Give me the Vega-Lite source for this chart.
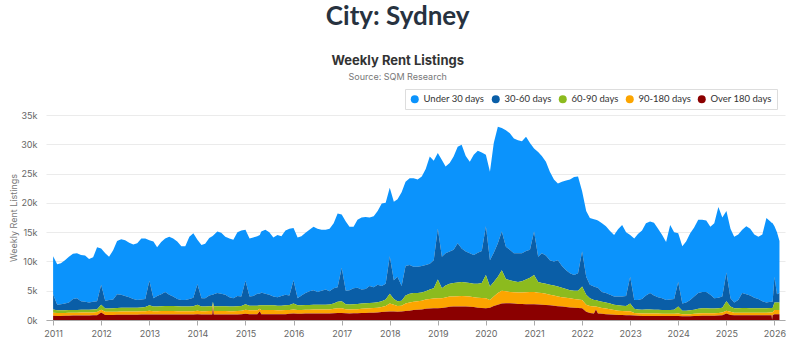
{
  "$schema": "https://vega.github.io/schema/vega-lite/v6.json",
  "background": "white",
  "padding": {"left": 9, "top": 4, "right": 10, "bottom": 6},
  "title": {"text": "City: Sydney", "font": "Lato", "fontSize": 26, "fontWeight": 700, "color": "#27323f", "anchor": "middle", "frame": "bounds", "offset": 25},
  "vconcat": [
    {
      "width": 739,
      "height": 205,
      "title": {"text": "Weekly Rent Listings", "subtitle": "Source: SQM Research", "fontSize": 13, "fontWeight": 700, "color": "#333333", "subtitleFontSize": 9, "subtitleColor": "#777777", "subtitlePadding": 5, "anchor": "middle", "frame": "bounds", "offset": 29},
      "data": {
        "values": [
          {"t": "2011-01-01", "u": 6500, "d": 2600, "g": 550, "o": 530, "r": 720},
          {"t": "2011-02-01", "u": 6900, "d": 950, "g": 450, "o": 500, "r": 700},
          {"t": "2011-03-01", "u": 7000, "d": 1050, "g": 450, "o": 500, "r": 700},
          {"t": "2011-04-01", "u": 7400, "d": 1150, "g": 450, "o": 480, "r": 720},
          {"t": "2011-05-01", "u": 7800, "d": 1300, "g": 480, "o": 500, "r": 720},
          {"t": "2011-06-01", "u": 7700, "d": 1900, "g": 450, "o": 500, "r": 750},
          {"t": "2011-07-01", "u": 7700, "d": 2000, "g": 450, "o": 500, "r": 750},
          {"t": "2011-08-01", "u": 7900, "d": 1450, "g": 470, "o": 510, "r": 770},
          {"t": "2011-09-01", "u": 7900, "d": 1350, "g": 470, "o": 510, "r": 770},
          {"t": "2011-10-01", "u": 7400, "d": 1250, "g": 450, "o": 520, "r": 780},
          {"t": "2011-11-01", "u": 7600, "d": 1300, "g": 500, "o": 500, "r": 800},
          {"t": "2011-12-01", "u": 9200, "d": 1350, "g": 500, "o": 550, "r": 800},
          {"t": "2012-01-01", "u": 6200, "d": 3400, "g": 850, "o": 450, "r": 1300},
          {"t": "2012-02-01", "u": 8100, "d": 1350, "g": 550, "o": 550, "r": 850},
          {"t": "2012-03-01", "u": 7400, "d": 1450, "g": 550, "o": 550, "r": 850},
          {"t": "2012-04-01", "u": 8400, "d": 1500, "g": 600, "o": 530, "r": 870},
          {"t": "2012-05-01", "u": 9100, "d": 2350, "g": 630, "o": 540, "r": 880},
          {"t": "2012-06-01", "u": 9500, "d": 2200, "g": 650, "o": 550, "r": 900},
          {"t": "2012-07-01", "u": 9500, "d": 2000, "g": 650, "o": 550, "r": 900},
          {"t": "2012-08-01", "u": 9300, "d": 1800, "g": 650, "o": 550, "r": 900},
          {"t": "2012-09-01", "u": 9300, "d": 1500, "g": 650, "o": 550, "r": 900},
          {"t": "2012-10-01", "u": 9700, "d": 1300, "g": 650, "o": 550, "r": 900},
          {"t": "2012-11-01", "u": 10400, "d": 1350, "g": 650, "o": 580, "r": 920},
          {"t": "2012-12-01", "u": 10300, "d": 1400, "g": 700, "o": 580, "r": 920},
          {"t": "2013-01-01", "u": 6900, "d": 4200, "g": 900, "o": 650, "r": 950},
          {"t": "2013-02-01", "u": 9700, "d": 1400, "g": 800, "o": 580, "r": 920},
          {"t": "2013-03-01", "u": 8300, "d": 1800, "g": 800, "o": 580, "r": 920},
          {"t": "2013-04-01", "u": 8900, "d": 2050, "g": 800, "o": 600, "r": 950},
          {"t": "2013-05-01", "u": 9100, "d": 2400, "g": 850, "o": 600, "r": 950},
          {"t": "2013-06-01", "u": 9900, "d": 1900, "g": 850, "o": 600, "r": 950},
          {"t": "2013-07-01", "u": 9900, "d": 1600, "g": 850, "o": 600, "r": 950},
          {"t": "2013-08-01", "u": 9800, "d": 1250, "g": 850, "o": 550, "r": 950},
          {"t": "2013-09-01", "u": 9200, "d": 1100, "g": 800, "o": 580, "r": 920},
          {"t": "2013-10-01", "u": 9200, "d": 1100, "g": 800, "o": 580, "r": 920},
          {"t": "2013-11-01", "u": 10600, "d": 1300, "g": 800, "o": 580, "r": 920},
          {"t": "2013-12-01", "u": 11000, "d": 1450, "g": 850, "o": 550, "r": 950},
          {"t": "2014-01-01", "u": 7600, "d": 3500, "g": 1000, "o": 600, "r": 1000},
          {"t": "2014-02-01", "u": 9100, "d": 1400, "g": 800, "o": 550, "r": 950},
          {"t": "2014-03-01", "u": 9300, "d": 1400, "g": 800, "o": 550, "r": 950},
          {"t": "2014-04-01", "u": 9800, "d": 1850, "g": 800, "o": 600, "r": 950},
          {"t": "2014-04-24", "u": 10000, "d": 1950, "g": 800, "o": 600, "r": 950},
          {"t": "2014-04-29", "u": 10100, "d": 1200, "g": 300, "o": 500, "r": 2300},
          {"t": "2014-05-05", "u": 10100, "d": 2050, "g": 800, "o": 600, "r": 950},
          {"t": "2014-06-01", "u": 10500, "d": 2250, "g": 800, "o": 600, "r": 950},
          {"t": "2014-07-01", "u": 10400, "d": 2150, "g": 800, "o": 600, "r": 950},
          {"t": "2014-08-01", "u": 9900, "d": 1950, "g": 800, "o": 600, "r": 950},
          {"t": "2014-09-01", "u": 10000, "d": 1600, "g": 800, "o": 550, "r": 950},
          {"t": "2014-10-01", "u": 10000, "d": 1400, "g": 800, "o": 550, "r": 950},
          {"t": "2014-11-01", "u": 10900, "d": 1750, "g": 800, "o": 600, "r": 950},
          {"t": "2014-12-01", "u": 11300, "d": 1600, "g": 800, "o": 600, "r": 1000},
          {"t": "2015-01-01", "u": 8700, "d": 4000, "g": 950, "o": 700, "r": 1050},
          {"t": "2015-02-01", "u": 9900, "d": 1550, "g": 800, "o": 650, "r": 1000},
          {"t": "2015-03-01", "u": 10000, "d": 1650, "g": 800, "o": 650, "r": 1000},
          {"t": "2015-04-01", "u": 9800, "d": 2050, "g": 800, "o": 650, "r": 1000},
          {"t": "2015-04-20", "u": 10000, "d": 2000, "g": 600, "o": 400, "r": 1500},
          {"t": "2015-05-01", "u": 10400, "d": 2200, "g": 800, "o": 700, "r": 1000},
          {"t": "2015-06-01", "u": 10900, "d": 2000, "g": 800, "o": 700, "r": 1000},
          {"t": "2015-07-01", "u": 10700, "d": 1800, "g": 800, "o": 700, "r": 1000},
          {"t": "2015-08-01", "u": 10100, "d": 1500, "g": 800, "o": 700, "r": 1000},
          {"t": "2015-09-01", "u": 10600, "d": 1450, "g": 800, "o": 650, "r": 1000},
          {"t": "2015-10-01", "u": 10200, "d": 1650, "g": 800, "o": 650, "r": 1000},
          {"t": "2015-11-01", "u": 11000, "d": 1800, "g": 800, "o": 700, "r": 1000},
          {"t": "2015-12-01", "u": 11400, "d": 1650, "g": 850, "o": 650, "r": 1050},
          {"t": "2016-01-01", "u": 8900, "d": 4000, "g": 1000, "o": 700, "r": 1100},
          {"t": "2016-02-01", "u": 10400, "d": 1200, "g": 800, "o": 650, "r": 1050},
          {"t": "2016-03-01", "u": 10100, "d": 1700, "g": 800, "o": 650, "r": 1050},
          {"t": "2016-04-01", "u": 10300, "d": 2050, "g": 800, "o": 650, "r": 1100},
          {"t": "2016-05-01", "u": 10500, "d": 2350, "g": 800, "o": 650, "r": 1100},
          {"t": "2016-06-01", "u": 10800, "d": 2500, "g": 800, "o": 700, "r": 1100},
          {"t": "2016-07-01", "u": 10800, "d": 2200, "g": 800, "o": 700, "r": 1100},
          {"t": "2016-08-01", "u": 10400, "d": 2400, "g": 800, "o": 700, "r": 1100},
          {"t": "2016-09-01", "u": 10200, "d": 2600, "g": 800, "o": 700, "r": 1100},
          {"t": "2016-10-01", "u": 10700, "d": 2250, "g": 850, "o": 700, "r": 1100},
          {"t": "2016-11-01", "u": 11100, "d": 2600, "g": 900, "o": 750, "r": 1150},
          {"t": "2016-12-01", "u": 12600, "d": 2500, "g": 1100, "o": 800, "r": 1200},
          {"t": "2017-01-01", "u": 9100, "d": 5700, "g": 1200, "o": 800, "r": 1200},
          {"t": "2017-02-01", "u": 11800, "d": 2300, "g": 850, "o": 700, "r": 1150},
          {"t": "2017-03-01", "u": 10800, "d": 2450, "g": 850, "o": 700, "r": 1100},
          {"t": "2017-04-01", "u": 10500, "d": 2700, "g": 850, "o": 700, "r": 1150},
          {"t": "2017-05-01", "u": 11600, "d": 2750, "g": 900, "o": 700, "r": 1150},
          {"t": "2017-06-01", "u": 12300, "d": 2400, "g": 900, "o": 700, "r": 1200},
          {"t": "2017-07-01", "u": 12300, "d": 2450, "g": 900, "o": 750, "r": 1200},
          {"t": "2017-08-01", "u": 11700, "d": 2900, "g": 900, "o": 750, "r": 1250},
          {"t": "2017-09-01", "u": 12100, "d": 2650, "g": 900, "o": 800, "r": 1250},
          {"t": "2017-10-01", "u": 12600, "d": 2950, "g": 950, "o": 800, "r": 1300},
          {"t": "2017-11-01", "u": 14100, "d": 2600, "g": 1000, "o": 850, "r": 1350},
          {"t": "2017-12-01", "u": 13800, "d": 2700, "g": 1100, "o": 1000, "r": 1400},
          {"t": "2018-01-01", "u": 11700, "d": 6400, "g": 1700, "o": 1350, "r": 1450},
          {"t": "2018-02-01", "u": 13400, "d": 3200, "g": 1000, "o": 1150, "r": 1450},
          {"t": "2018-03-01", "u": 13200, "d": 4200, "g": 800, "o": 1000, "r": 1400},
          {"t": "2018-04-01", "u": 16000, "d": 2500, "g": 850, "o": 1000, "r": 1450},
          {"t": "2018-05-01", "u": 14400, "d": 5000, "g": 1400, "o": 1250, "r": 1550},
          {"t": "2018-06-01", "u": 14800, "d": 4900, "g": 1500, "o": 1400, "r": 1600},
          {"t": "2018-07-01", "u": 15100, "d": 4500, "g": 1500, "o": 1400, "r": 1700},
          {"t": "2018-08-01", "u": 14900, "d": 4500, "g": 1400, "o": 1450, "r": 1750},
          {"t": "2018-09-01", "u": 15300, "d": 4500, "g": 1400, "o": 1500, "r": 1800},
          {"t": "2018-10-01", "u": 16400, "d": 4500, "g": 1400, "o": 1600, "r": 1900},
          {"t": "2018-11-01", "u": 18300, "d": 4400, "g": 1600, "o": 1650, "r": 1950},
          {"t": "2018-12-01", "u": 17000, "d": 4800, "g": 1750, "o": 1650, "r": 2000},
          {"t": "2019-01-01", "u": 12900, "d": 8700, "g": 3200, "o": 1700, "r": 2000},
          {"t": "2019-02-01", "u": 16500, "d": 5400, "g": 1700, "o": 1650, "r": 2050},
          {"t": "2019-03-01", "u": 14800, "d": 5500, "g": 2050, "o": 1700, "r": 2150},
          {"t": "2019-04-01", "u": 15100, "d": 5500, "g": 2200, "o": 1750, "r": 2250},
          {"t": "2019-05-01", "u": 15900, "d": 5700, "g": 2300, "o": 1700, "r": 2300},
          {"t": "2019-06-01", "u": 16500, "d": 6700, "g": 2350, "o": 1750, "r": 2300},
          {"t": "2019-07-01", "u": 17700, "d": 5700, "g": 2400, "o": 1800, "r": 2300},
          {"t": "2019-08-01", "u": 16300, "d": 5300, "g": 2350, "o": 1750, "r": 2300},
          {"t": "2019-09-01", "u": 15600, "d": 5100, "g": 2300, "o": 1750, "r": 2250},
          {"t": "2019-10-01", "u": 17100, "d": 4900, "g": 2300, "o": 1700, "r": 2200},
          {"t": "2019-11-01", "u": 17400, "d": 5300, "g": 2400, "o": 1700, "r": 2100},
          {"t": "2019-12-01", "u": 16800, "d": 5500, "g": 2550, "o": 1700, "r": 2050},
          {"t": "2020-01-01", "u": 12200, "d": 8300, "g": 4000, "o": 1700, "r": 2000},
          {"t": "2020-02-01", "u": 15100, "d": 4500, "g": 2300, "o": 1300, "r": 2100},
          {"t": "2020-03-01", "u": 18700, "d": 5000, "g": 2500, "o": 1600, "r": 2400},
          {"t": "2020-04-01", "u": 19900, "d": 5700, "g": 2800, "o": 2000, "r": 2600},
          {"t": "2020-05-01", "u": 17700, "d": 6600, "g": 3500, "o": 2200, "r": 2800},
          {"t": "2020-06-01", "u": 19900, "d": 5500, "g": 2100, "o": 2050, "r": 2850},
          {"t": "2020-07-01", "u": 19900, "d": 5200, "g": 2000, "o": 1950, "r": 2850},
          {"t": "2020-08-01", "u": 19600, "d": 4800, "g": 1850, "o": 1950, "r": 2800},
          {"t": "2020-09-01", "u": 19300, "d": 4900, "g": 1800, "o": 1950, "r": 2750},
          {"t": "2020-10-01", "u": 19100, "d": 4800, "g": 1900, "o": 1950, "r": 2750},
          {"t": "2020-11-01", "u": 19500, "d": 4900, "g": 2150, "o": 2050, "r": 2700},
          {"t": "2020-12-01", "u": 18200, "d": 4800, "g": 2400, "o": 2100, "r": 2700},
          {"t": "2021-01-01", "u": 14200, "d": 7400, "g": 2900, "o": 2100, "r": 2700},
          {"t": "2021-02-01", "u": 17900, "d": 4300, "g": 1850, "o": 2000, "r": 2650},
          {"t": "2021-03-01", "u": 16600, "d": 5100, "g": 1700, "o": 2000, "r": 2600},
          {"t": "2021-04-01", "u": 16000, "d": 4800, "g": 1700, "o": 1950, "r": 2550},
          {"t": "2021-05-01", "u": 15100, "d": 4200, "g": 1700, "o": 1800, "r": 2500},
          {"t": "2021-06-01", "u": 14000, "d": 4100, "g": 1700, "o": 1750, "r": 2450},
          {"t": "2021-07-01", "u": 13100, "d": 4500, "g": 1700, "o": 1650, "r": 2350},
          {"t": "2021-08-01", "u": 14400, "d": 3700, "g": 1600, "o": 1600, "r": 2300},
          {"t": "2021-09-01", "u": 15300, "d": 3200, "g": 1500, "o": 1600, "r": 2200},
          {"t": "2021-10-01", "u": 16000, "d": 2900, "g": 1400, "o": 1550, "r": 2150},
          {"t": "2021-11-01", "u": 16700, "d": 2700, "g": 1400, "o": 1500, "r": 2100},
          {"t": "2021-12-01", "u": 16500, "d": 3000, "g": 1500, "o": 1450, "r": 2050},
          {"t": "2022-01-01", "u": 10300, "d": 6000, "g": 2300, "o": 1400, "r": 2000},
          {"t": "2022-02-01", "u": 11200, "d": 3100, "g": 1700, "o": 1200, "r": 1400},
          {"t": "2022-03-01", "u": 11400, "d": 2300, "g": 1300, "o": 1200, "r": 1200},
          {"t": "2022-04-01", "u": 11500, "d": 2300, "g": 1100, "o": 1200, "r": 1100},
          {"t": "2022-04-16", "u": 11500, "d": 2200, "g": 1100, "o": 500, "r": 1800},
          {"t": "2022-05-01", "u": 11500, "d": 2200, "g": 1100, "o": 1100, "r": 1100},
          {"t": "2022-06-01", "u": 11700, "d": 1700, "g": 1050, "o": 1000, "r": 1050},
          {"t": "2022-07-01", "u": 11400, "d": 1600, "g": 1050, "o": 950, "r": 1000},
          {"t": "2022-08-01", "u": 10900, "d": 1500, "g": 950, "o": 900, "r": 950},
          {"t": "2022-09-01", "u": 10500, "d": 1400, "g": 900, "o": 800, "r": 900},
          {"t": "2022-10-01", "u": 11500, "d": 1500, "g": 900, "o": 750, "r": 850},
          {"t": "2022-11-01", "u": 12200, "d": 1550, "g": 900, "o": 700, "r": 850},
          {"t": "2022-12-01", "u": 10900, "d": 1700, "g": 900, "o": 700, "r": 800},
          {"t": "2023-01-01", "u": 7100, "d": 4600, "g": 1300, "o": 700, "r": 800},
          {"t": "2023-02-01", "u": 10500, "d": 1500, "g": 700, "o": 450, "r": 750},
          {"t": "2023-03-01", "u": 11300, "d": 1600, "g": 650, "o": 430, "r": 720},
          {"t": "2023-04-01", "u": 11700, "d": 1850, "g": 650, "o": 400, "r": 700},
          {"t": "2023-05-01", "u": 12300, "d": 2400, "g": 700, "o": 400, "r": 700},
          {"t": "2023-06-01", "u": 12200, "d": 2800, "g": 700, "o": 400, "r": 700},
          {"t": "2023-07-01", "u": 12400, "d": 2450, "g": 650, "o": 400, "r": 700},
          {"t": "2023-08-01", "u": 11700, "d": 2150, "g": 650, "o": 400, "r": 700},
          {"t": "2023-09-01", "u": 10800, "d": 2000, "g": 650, "o": 370, "r": 680},
          {"t": "2023-10-01", "u": 9900, "d": 1700, "g": 650, "o": 370, "r": 680},
          {"t": "2023-11-01", "u": 12700, "d": 1800, "g": 650, "o": 370, "r": 680},
          {"t": "2023-12-01", "u": 11400, "d": 1850, "g": 700, "o": 370, "r": 680},
          {"t": "2024-01-01", "u": 8300, "d": 4200, "g": 1200, "o": 400, "r": 700},
          {"t": "2024-02-01", "u": 9800, "d": 1200, "g": 600, "o": 350, "r": 650},
          {"t": "2024-03-01", "u": 10400, "d": 1400, "g": 600, "o": 350, "r": 650},
          {"t": "2024-04-01", "u": 11400, "d": 1750, "g": 650, "o": 350, "r": 650},
          {"t": "2024-05-01", "u": 11800, "d": 2250, "g": 700, "o": 370, "r": 680},
          {"t": "2024-06-01", "u": 12500, "d": 2700, "g": 800, "o": 400, "r": 700},
          {"t": "2024-07-01", "u": 12300, "d": 2800, "g": 850, "o": 430, "r": 720},
          {"t": "2024-08-01", "u": 12200, "d": 2800, "g": 850, "o": 430, "r": 720},
          {"t": "2024-09-01", "u": 11600, "d": 2350, "g": 800, "o": 430, "r": 720},
          {"t": "2024-10-01", "u": 12800, "d": 1750, "g": 800, "o": 430, "r": 720},
          {"t": "2024-11-01", "u": 15500, "d": 1800, "g": 800, "o": 450, "r": 750},
          {"t": "2024-12-01", "u": 13500, "d": 1900, "g": 800, "o": 500, "r": 800},
          {"t": "2025-01-01", "u": 10500, "d": 4900, "g": 1600, "o": 500, "r": 1100},
          {"t": "2025-02-01", "u": 11900, "d": 1400, "g": 900, "o": 550, "r": 850},
          {"t": "2025-03-01", "u": 11200, "d": 1000, "g": 750, "o": 450, "r": 800},
          {"t": "2025-04-01", "u": 11200, "d": 1400, "g": 750, "o": 450, "r": 800},
          {"t": "2025-05-01", "u": 10800, "d": 2550, "g": 800, "o": 450, "r": 800},
          {"t": "2025-06-01", "u": 11600, "d": 2350, "g": 800, "o": 450, "r": 800},
          {"t": "2025-07-01", "u": 11400, "d": 2200, "g": 750, "o": 450, "r": 800},
          {"t": "2025-08-01", "u": 10800, "d": 1800, "g": 750, "o": 450, "r": 800},
          {"t": "2025-09-01", "u": 10600, "d": 1600, "g": 750, "o": 450, "r": 800},
          {"t": "2025-10-01", "u": 11400, "d": 1200, "g": 750, "o": 450, "r": 800},
          {"t": "2025-11-01", "u": 14400, "d": 1000, "g": 750, "o": 450, "r": 800},
          {"t": "2025-12-01", "u": 13700, "d": 1050, "g": 750, "o": 480, "r": 820},
          {"t": "2025-12-10", "u": 13500, "d": 1050, "g": 750, "o": 480, "r": 820},
          {"t": "2025-12-14", "u": 13500, "d": 1050, "g": 700, "o": 1300, "r": 50},
          {"t": "2025-12-18", "u": 13400, "d": 1050, "g": 750, "o": 480, "r": 820},
          {"t": "2026-01-01", "u": 8600, "d": 4400, "g": 1300, "o": 700, "r": 1000},
          {"t": "2026-01-20", "u": 10600, "d": 1400, "g": 1300, "o": 700, "r": 1000},
          {"t": "2026-02-08", "u": 8900, "d": 1600, "g": 1300, "o": 700, "r": 1000}
        ]
      },
      "transform": [
        {"fold": ["u", "d", "g", "o", "r"], "as": ["k", "n"]},
        {
          "lookup": "k",
          "from": {
            "data": {
              "values": [
                {"k": "u", "age": "Under 30 days", "rank": 5},
                {"k": "d", "age": "30-60 days", "rank": 4},
                {"k": "g", "age": "60-90 days", "rank": 3},
                {"k": "o", "age": "90-180 days", "rank": 2},
                {"k": "r", "age": "Over 180 days", "rank": 1}
              ]
            },
            "key": "k",
            "fields": ["age", "rank"]
          }
        }
      ],
      "mark": {"type": "area", "interpolate": "linear", "opacity": 1},
      "encoding": {
        "x": {
          "field": "t",
          "type": "temporal",
          "scale": {"domain": ["2010-11-08", "2026-03-22"]},
          "axis": {"title": null, "format": "%Y", "tickCount": {"interval": "year", "step": 1}, "grid": false, "domainColor": "#aaaaaa", "tickColor": "#aaaaaa", "tickSize": 5, "labelColor": "#666666", "labelFontSize": 9, "labelPadding": 4}
        },
        "y": {
          "field": "n",
          "type": "quantitative",
          "stack": "zero",
          "scale": {"domain": [0, 35000], "nice": false},
          "axis": {"title": "Weekly Rent Listings", "values": [0, 5000, 10000, 15000, 20000, 25000, 30000, 35000], "format": "~s", "domain": false, "ticks": false, "labelColor": "#666666", "labelFontSize": 9, "labelPadding": 9, "titleFontSize": 9, "titleFontWeight": "normal", "titleColor": "#777777", "titlePadding": 2, "gridColor": "#ebebeb"}
        },
        "color": {
          "field": "age",
          "type": "nominal",
          "scale": {
            "domain": ["Under 30 days", "30-60 days", "60-90 days", "90-180 days", "Over 180 days"],
            "range": ["#0b93fc", "#0a5ea7", "#8cbb1e", "#fca500", "#8b0000"]
          },
          "legend": {"title": null, "orient": "none", "legendX": 359, "legendY": -26, "direction": "horizontal", "columns": 5, "symbolType": "circle", "symbolSize": 64, "symbolStrokeWidth": 0, "labelFont": "Lato", "labelFontSize": 9.5, "labelColor": "#333333", "labelOffset": 4, "columnPadding": 6, "padding": 5, "strokeColor": "#dddddd", "fillColor": "white"}
        },
        "order": {"field": "rank", "type": "quantitative", "sort": "ascending"}
      }
    }
  ],
  "config": {"font": "Inter", "view": {"stroke": null}}
}
